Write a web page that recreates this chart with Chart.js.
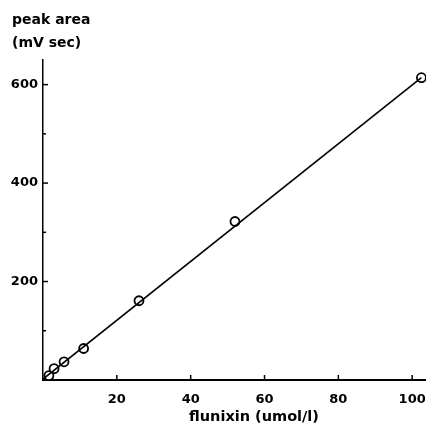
<!DOCTYPE html>
<html>
<head>
<meta charset="utf-8">
<script src="https://cdn.jsdelivr.net/npm/chart.js@4"></script>
<style>
  html, body { margin: 0; padding: 0; background: #fff; overflow: hidden; width: 426px; height: 430px; }
  #wrap { width: 438px; height: 430px; }
</style>
</head>
<body>
<div id="wrap"><canvas id="chart"></canvas></div>
<script>
// flunixin concentration (umol/l) vs peak area (mV sec)
var concentration = [1.6, 3, 5.7, 11, 26, 52, 102.5];
var peakArea = [9, 23, 37, 64, 161, 322, 614];
// regression line end points
var fitX = [0, 102.5];
var fitY = [2, 614];
var majorY = [200, 400, 600];
var minorY = [100, 300, 500];
var majorX = [20, 40, 60, 80, 100];

var family = "'DejaVu Sans', sans-serif";
var font = { family: family, weight: 'bold', size: 13 };

// inward tick marks + axis titles
var extras = {
    id: 'extras',
    afterDraw: function (chart) {
        var ctx = chart.ctx;
        var xs = chart.scales.x, ys = chart.scales.y;
        var area = chart.chartArea;
        ctx.save();
        ctx.strokeStyle = '#000';
        ctx.lineWidth = 1.5;
        majorY.forEach(function (v) {
            var y = ys.getPixelForValue(v);
            ctx.beginPath(); ctx.moveTo(area.left, y); ctx.lineTo(area.left + 5, y); ctx.stroke();
        });
        minorY.forEach(function (v) {
            var y = ys.getPixelForValue(v);
            ctx.beginPath(); ctx.moveTo(area.left, y); ctx.lineTo(area.left + 3, y); ctx.stroke();
        });
        majorX.forEach(function (v) {
            var x = xs.getPixelForValue(v);
            ctx.beginPath(); ctx.moveTo(x, area.bottom); ctx.lineTo(x, area.bottom - 5); ctx.stroke();
        });
        ctx.fillStyle = '#000';
        ctx.font = 'bold 14px ' + family;
        ctx.textBaseline = 'alphabetic';
        ctx.textAlign = 'left';
        ctx.fillText('peak area', 12, 24);
        ctx.fillText('(mV sec)', 12, 47);
        ctx.textAlign = 'center';
        ctx.font = 'bold 14.5px ' + family;
        ctx.fillText('flunixin (umol/l)', 254, 421);
        ctx.restore();
    }
};

new Chart(document.getElementById('chart'), {
    type: 'scatter',
    data: {
        datasets: [{
            data: fitX.map(function (x, i) { return { x: x, y: fitY[i] }; }),
            showLine: true,
            borderColor: '#000',
            borderWidth: 1.6,
            pointRadius: 0
        }, {
            data: concentration.map(function (x, i) { return { x: x, y: peakArea[i] }; }),
            showLine: false,
            pointRadius: 4.5,
            pointBorderWidth: 1.8,
            borderColor: '#000',
            backgroundColor: '#fff'
        }]
    },
    plugins: [extras],
    options: {
        responsive: true,
        maintainAspectRatio: false,
        animation: false,
        layout: { padding: { top: 60, left: 0, right: 0, bottom: 0 } },
        plugins: { legend: { display: false }, tooltip: { enabled: false } },
        scales: {
            x: {
                type: 'linear',
                min: 0,
                max: 104,
                afterFit: function (s) { s.height = 50; },
                afterBuildTicks: function (s) { s.ticks = majorX.map(function (v) { return { value: v }; }); },
                ticks: {
                    color: '#000',
                    font: font,
                    padding: 12,
                    autoSkip: false,
                    maxRotation: 0
                },
                grid: { drawOnChartArea: false, drawTicks: false },
                border: { display: true, color: '#000', width: 2 }
            },
            y: {
                min: 0,
                max: 650,
                afterFit: function (s) { s.width = 43; },
                afterBuildTicks: function (s) { s.ticks = majorY.map(function (v) { return { value: v }; }); },
                ticks: {
                    color: '#000',
                    font: font,
                    padding: 5
                },
                grid: { drawOnChartArea: false, drawTicks: false },
                border: { display: true, color: '#000', width: 1.5 }
            }
        }
    }
});
</script>
</body>
</html>
